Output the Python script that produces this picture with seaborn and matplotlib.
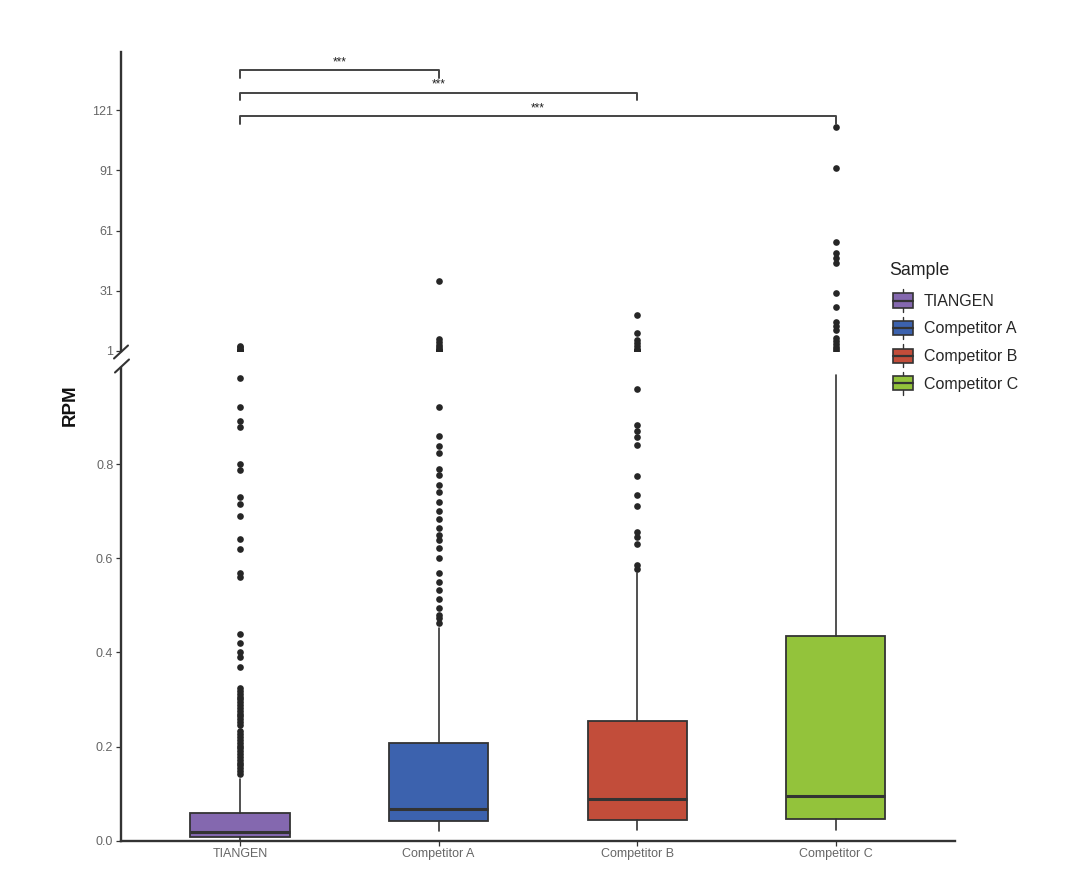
import matplotlib
matplotlib.use("Agg")
import pandas as pd
import matplotlib.pyplot as plt
import seaborn as sns
from matplotlib.lines import Line2D
from matplotlib.patches import Patch, Rectangle
from matplotlib.legend_handler import HandlerBase

# --- data ------------------------------------------------------------------
samples = ["TIANGEN", "Competitor A", "Competitor B", "Competitor C"]
box_colors = ["#8468AF", "#3C62AE", "#C24D3A", "#93C33B"]

q1 = [0.0085, 0.0425, 0.044, 0.046]
medians = [0.0185, 0.068, 0.0885, 0.094]
q3 = [0.058, 0.207, 0.255, 0.435]
whisk_lo = [0.001, 0.021, 0.0225, 0.0225]
whisk_hi = [0.13, 0.452, 0.568, 0.99]

tiangen_out = [0.142, 0.148, 0.154, 0.160, 0.166, 0.172, 0.178, 0.184, 0.190,
               0.196, 0.202, 0.208, 0.214, 0.220, 0.226, 0.232,
               0.246, 0.252, 0.258, 0.264, 0.270, 0.276, 0.282, 0.288, 0.294,
               0.300, 0.306, 0.312, 0.318, 0.324,
               0.369, 0.391, 0.401, 0.419, 0.439, 0.560, 0.569, 0.619, 0.640,
               0.690, 0.716, 0.731, 0.788, 0.801, 0.878, 0.891, 0.921, 0.982,
               1.3, 2.0, 2.8, 3.5]
comp_a_out = [0.462, 0.472, 0.480, 0.495, 0.513, 0.532, 0.550, 0.569, 0.600,
              0.621, 0.638, 0.650, 0.665, 0.684, 0.700, 0.720, 0.741, 0.755,
              0.776, 0.789, 0.824, 0.838, 0.859, 0.921,
              1.3, 2.0, 3.0, 4.2, 5.5, 7.0, 36.0]
comp_b_out = [0.576, 0.585, 0.631, 0.645, 0.656, 0.711, 0.734, 0.774, 0.840,
              0.858, 0.870, 0.883, 0.960,
              1.3, 2.2, 3.5, 5.0, 6.5, 10.0, 18.9]
comp_c_out = [1.2, 1.8, 3.0, 4.5, 6.0, 7.5, 11.4, 13.4, 15.6, 23.0, 30.0,
              44.8, 47.3, 49.8, 55.4, 92.2, 112.6]
outliers = [tiangen_out, comp_a_out, comp_b_out, comp_c_out]

# significance brackets: (group a, group b), height, label
pairs = [(0, 1), (0, 2), (0, 3)]
bracket_y = [140.8, 129.5, 117.9]
bracket_labels = ["***", "***", "***"]

lower_ticks = [0.0, 0.2, 0.4, 0.6, 0.8]
upper_ticks = [1, 31, 61, 91, 121]

# --- styling ----------------------------------------------------------------
sns.set_theme(style="ticks")
plt.rcParams["font.family"] = ["Liberation Sans", "DejaVu Sans"]

dark = "#333333"
tick_grey = "#666666"

rows = [(s, v) for s, vals in zip(samples, outliers) for v in vals]
out_df = pd.DataFrame(rows, columns=["Sample", "RPM"])

box_stats = []
for i, s in enumerate(samples):
    box_stats.append(dict(label=s, q1=q1[i], med=medians[i], q3=q3[i],
                          whislo=whisk_lo[i], whishi=whisk_hi[i], fliers=[]))


class BoxKey(HandlerBase):
    # ggplot-like boxplot legend key: box, median line and whisker stubs
    def create_artists(self, legend, orig_handle, xdescent, ydescent,
                       width, height, fontsize, trans):
        x0, y0 = -xdescent, -ydescent
        xm = x0 + width / 2
        lo = Line2D([xm, xm], [y0 - 0.05 * height, y0 + 0.15 * height],
                    color=dark, lw=1.0, transform=trans)
        hi = Line2D([xm, xm], [y0 + 0.85 * height, y0 + 1.05 * height],
                    color=dark, lw=1.0, transform=trans)
        rect = Rectangle((x0, y0 + 0.15 * height), width, 0.7 * height,
                         facecolor=orig_handle.get_facecolor(),
                         edgecolor=dark, lw=1.2, transform=trans)
        mid = Line2D([x0, x0 + width], [y0 + height / 2] * 2,
                     color=dark, lw=1.6, transform=trans)
        return [lo, hi, rect, mid]


fig = plt.figure(figsize=(10.8, 8.85), dpi=100)
ax_top = fig.add_axes([0.1120, 0.6034, 0.7722, 0.3379])
ax_bot = fig.add_axes([0.1120, 0.0501, 0.7722, 0.5341])

for ax in (ax_top, ax_bot):
    sns.stripplot(data=out_df, x="Sample", y="RPM", order=samples,
                  jitter=False, color="#262626", size=4.8, linewidth=0,
                  ax=ax, zorder=3)
    ax.set_xlim(-0.6, 3.6)
    ax.set_xlabel("")
    ax.set_ylabel("")
    for side in ("top", "right"):
        ax.spines[side].set_visible(False)
    ax.spines["left"].set_color(dark)
    ax.spines["left"].set_linewidth(1.7)
    ax.tick_params(axis="y", length=3.5, width=0.9, color=dark,
                   labelsize=9, labelcolor=tick_grey, pad=2)

bp = ax_bot.bxp(box_stats, positions=range(len(samples)), widths=0.5,
                patch_artist=True, showfliers=False, showcaps=False,
                manage_ticks=False,
                boxprops=dict(edgecolor=dark, linewidth=1.3),
                medianprops=dict(color=dark, linewidth=2.2),
                whiskerprops=dict(color=dark, linewidth=1.2))
for patch, c in zip(bp["boxes"], box_colors):
    patch.set_facecolor(c)
    patch.set_zorder(2)

ax_bot.set_ylim(0, 1.004)
ax_bot.set_yticks(lower_ticks)
ax_bot.set_yticklabels([f"{t:.1f}" for t in lower_ticks])
ax_bot.set_xticks(range(len(samples)))
ax_bot.set_xticklabels(samples)
ax_bot.spines["bottom"].set_color(dark)
ax_bot.spines["bottom"].set_linewidth(1.7)
ax_bot.tick_params(axis="x", length=3.5, width=0.9, color=dark,
                   labelsize=9, labelcolor=tick_grey, pad=2)

ax_top.set_ylim(1, 150)
ax_top.set_yticks(upper_ticks)
ax_top.spines["bottom"].set_visible(False)
ax_top.tick_params(axis="x", bottom=False, labelbottom=False)

for (a, b), y, lab in zip(pairs, bracket_y, bracket_labels):
    ax_top.plot([a, a, b, b], [y - 3.6, y, y, y - 3.6], color="#444444",
                lw=1.4, clip_on=False, zorder=4)
    ax_top.text((a + b) / 2, y + 1.2, lab, ha="center", va="bottom",
                fontsize=8.5, color="#222222")


# axis-break marks on the y spine
def px(x, y):
    return x / 1080, 1 - y / 885


for cx, cy in [(121, 352), (122, 366)]:
    (x0, y0), (x1, y1) = px(cx - 7, cy + 6.5), px(cx + 7, cy - 6.5)
    fig.add_artist(Line2D([x0, x1], [y0, y1], transform=fig.transFigure,
                          color=dark, lw=1.5))

fig.text(70 / 1080, 1 - 405 / 885, "RPM", rotation=90, fontsize=13.5,
         fontweight="bold", ha="center", va="center", color="#111111")

# legend: title placed on its own so the gap to the keys matches
fig.text(889 / 1080, 1 - 270 / 885, "Sample", fontsize=12.8, ha="left",
         va="center", color="#222222")
handles = [Patch(facecolor=c, label=s) for s, c in zip(samples, box_colors)]
leg = fig.legend(handles=handles, loc="upper left",
                 bbox_to_anchor=(879 / 1080, 1 - 276 / 885), frameon=False,
                 fontsize=11.5, handlelength=1.25,
                 handleheight=1.6, handletextpad=0.65, labelspacing=0.44,
                 handler_map={Patch: BoxKey()})

fig.savefig("out.png", dpi=100)
